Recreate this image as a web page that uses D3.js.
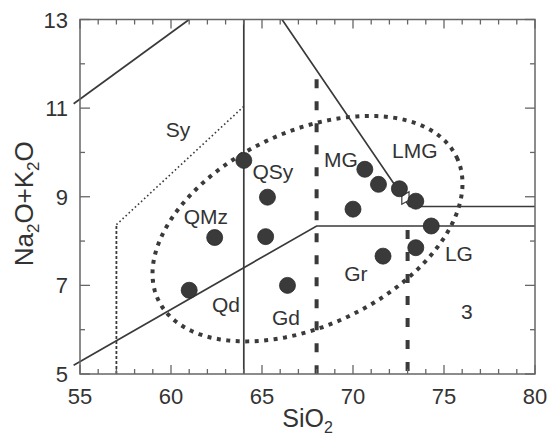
<!DOCTYPE html>
<html><head><meta charset="utf-8">
<script src="https://cdn.jsdelivr.net/npm/d3@7"></script>
<style>body{margin:0;background:#fff} text{font-family:"Liberation Sans",Arial,sans-serif;fill:#333}</style>
</head><body><svg id="c" width="551" height="445"></svg>
<script>
// ---- data ----
const SIO2 = [61.0, 62.4, 64.0, 65.3, 65.2, 66.4, 70.0, 70.65, 71.4, 72.55, 73.45, 73.45, 74.3, 71.65];
const ALK  = [6.89, 8.08, 9.82, 8.99, 8.10, 7.00, 8.72, 9.62, 9.28, 9.18, 8.90, 7.85, 8.34, 7.66];
const OPEN_SIO2 = [72.88];
const OPEN_ALK  = [8.97];
const X_TICKS = d3.range(55, 81, 1);
const X_LABELS = [55, 60, 65, 70, 75, 80];
const Y_TICKS = d3.range(5, 14, 1);
const Y_LABELS = [5, 7, 9, 11, 13];
// boundary lines (SiO2, Na2O+K2O)
const LINE_SY_TOP = [[54.65, 11.1], [61.0, 13.0]];
const LINE_V64 = [[64, 13], [64, 5]];
const LINE_DIAG = [[66.1, 13], [73.1, 8.78], [80, 8.78]];
const LINE_LOW = [[54.65, 5.2], [68, 8.34], [80, 8.34]];
const DOT_V57 = [[57, 5], [57, 8.37]];
const DOT_DIAG = [[57, 8.37], [64, 11.04]];
const DASH_68 = [[68, 11.65], [68, 5]];
const DASH_73 = [[73, 8.25], [73, 5]];
// ellipse: centre and two conjugate semi-axis vectors in data units
const ELL_CENTER = [67.5, 8.28];
const ELL_U = [8.20, 1.61];
const ELL_V = [2.30, -1.97];
const LABEL_TEXT = ["Sy", "QSy", "QMz", "MG", "LMG", "LG", "Gr", "3", "Qd", "Gd"];
const LABEL_X = [60.38, 65.6, 61.92, 69.34, 73.4, 75.82, 70.16, 76.26, 63.02, 66.32];
const LABEL_Y = [10.35, 9.39, 8.39, 9.68, 9.88, 7.56, 7.09, 6.23, 6.41, 6.10];

// ---- layout ----
const svg = d3.select("#c");
const L = 80, R = 535, T = 19.5, B = 374;
const x = d3.scaleLinear().domain([55, 80]).range([L, R]);
const y = d3.scaleLinear().domain([5, 13]).range([B, T]);
const line = d3.line().x(d => x(d[0])).y(d => y(d[1]));
const INK = "#3a3a3a", AX = "#666";

// ellipse
const tt = d3.range(0, 361, 2).map(a => a * Math.PI / 180);
const ellPts = tt.map(t => [ELL_CENTER[0] + Math.cos(t) * ELL_U[0] + Math.sin(t) * ELL_V[0],
                            ELL_CENTER[1] + Math.cos(t) * ELL_U[1] + Math.sin(t) * ELL_V[1]]);
svg.append("path").attr("d", line(ellPts) + "Z").attr("fill", "none")
  .attr("stroke", INK).attr("stroke-width", 4).attr("stroke-dasharray", "4 5.5");

// solid lines
[LINE_SY_TOP, LINE_V64, LINE_DIAG, LINE_LOW].forEach(p =>
  svg.append("path").attr("d", line(p)).attr("fill", "none").attr("stroke", INK).attr("stroke-width", 1.7));
// thin dotted
svg.append("path").attr("d", line(DOT_V57)).attr("fill", "none").attr("stroke", INK)
  .attr("stroke-width", 1.8).attr("stroke-dasharray", "3 2");
svg.append("path").attr("d", line(DOT_DIAG)).attr("fill", "none").attr("stroke", INK)
  .attr("stroke-width", 1.6).attr("stroke-dasharray", "1.6 2.6");
// thick dashed
[DASH_68, DASH_73].forEach(p =>
  svg.append("path").attr("d", line(p)).attr("fill", "none").attr("stroke", INK)
    .attr("stroke-width", 4).attr("stroke-dasharray", "9 13"));

// frame
svg.append("rect").attr("x", L).attr("y", T).attr("width", R - L).attr("height", B - T)
  .attr("fill", "none").attr("stroke", AX).attr("stroke-width", 1.5);

// ticks (inward, all four sides)
const tk = svg.append("g").attr("stroke", AX).attr("stroke-width", 1.3);
X_TICKS.forEach(v => {
  const len = v % 5 === 0 ? 9 : 5;
  tk.append("line").attr("x1", x(v)).attr("x2", x(v)).attr("y1", B).attr("y2", B - len);
  tk.append("line").attr("x1", x(v)).attr("x2", x(v)).attr("y1", T).attr("y2", T + len);
});
Y_TICKS.forEach(v => {
  const len = v % 2 === 1 ? 10 : 5;
  tk.append("line").attr("y1", y(v)).attr("y2", y(v)).attr("x1", L).attr("x2", L + len);
  tk.append("line").attr("y1", y(v)).attr("y2", y(v)).attr("x1", R).attr("x2", R - len);
});
X_LABELS.forEach(v => svg.append("text").attr("x", x(v)).attr("y", B + 30)
  .attr("text-anchor", "middle").attr("font-size", 22).text(v));
Y_LABELS.forEach(v => svg.append("text").attr("x", L - 12).attr("y", y(v) + 8)
  .attr("text-anchor", "end").attr("font-size", 22).text(v));

// axis titles
const xt = svg.append("text").attr("x", (L + R) / 2).attr("y", 427).attr("text-anchor", "middle").attr("font-size", 25);
xt.append("tspan").text("SiO");
xt.append("tspan").attr("font-size", 16).attr("dy", 6).text("2");
const yt = svg.append("text").attr("transform", `translate(33,${(T + B) / 2 + 7}) rotate(-90)`)
  .attr("text-anchor", "middle").attr("font-size", 26);
yt.append("tspan").text("Na");
yt.append("tspan").attr("font-size", 17).attr("dy", 6).text("2");
yt.append("tspan").attr("dy", -6).text("O+K");
yt.append("tspan").attr("font-size", 17).attr("dy", 6).text("2");
yt.append("tspan").attr("dy", -6).text("O");

// field labels
LABEL_TEXT.forEach((s, i) => svg.append("text").attr("x", x(LABEL_X[i])).attr("y", y(LABEL_Y[i]))
  .attr("text-anchor", "middle").attr("font-size", 21).text(s));

// open marker
OPEN_SIO2.forEach((v, i) => {
  const cx = x(v), cy = y(OPEN_ALK[i]);
  svg.append("path").attr("d", d3.symbol(d3.symbolDiamond, 60)())
    .attr("transform", `translate(${cx},${cy}) rotate(30)`)
    .attr("fill", "#fff").attr("stroke", INK).attr("stroke-width", 1.2);
});
// samples
svg.append("g").selectAll("circle").data(SIO2).join("circle")
  .attr("cx", d => x(d)).attr("cy", (d, i) => y(ALK[i])).attr("r", 8)
  .attr("fill", "#3a3a3a").attr("stroke", "#2a2a2a").attr("stroke-width", 0.8);
</script></body></html>
